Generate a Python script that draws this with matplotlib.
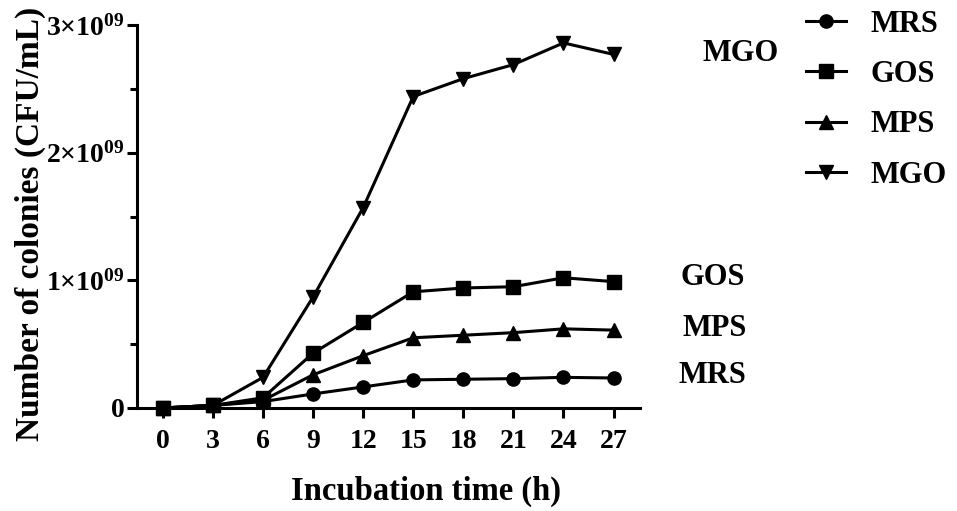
import numpy as np
import matplotlib
matplotlib.use("Agg")
import matplotlib.pyplot as plt
from matplotlib.ticker import FuncFormatter, MultipleLocator

plt.rcParams["font.family"] = "Liberation Serif"
plt.rcParams["font.weight"] = "bold"
plt.rcParams["mathtext.fontset"] = "custom"
plt.rcParams["mathtext.rm"] = "Liberation Serif:bold"
plt.rcParams["mathtext.it"] = "Liberation Serif:bold"
plt.rcParams["mathtext.bf"] = "Liberation Serif:bold"

# incubation time (h)
hours = [0, 3, 6, 9, 12, 15, 18, 21, 24, 27]

# colonies (CFU/mL)
mrs = [0.0, 0.02e9, 0.05e9, 0.11e9, 0.165e9, 0.22e9, 0.225e9, 0.23e9, 0.24e9, 0.235e9]
gos = [0.0, 0.02e9, 0.08e9, 0.43e9, 0.67e9, 0.91e9, 0.94e9, 0.95e9, 1.02e9, 0.99e9]
mps = [0.0, 0.02e9, 0.06e9, 0.26e9, 0.41e9, 0.55e9, 0.57e9, 0.59e9, 0.62e9, 0.61e9]
mgo = [0.0, 0.02e9, 0.24e9, 0.87e9, 1.57e9, 2.44e9, 2.58e9, 2.69e9, 2.86e9, 2.77e9]

names = ["MRS", "GOS", "MPS", "MGO"]
markers = ["o", "s", "^", "v"]

fig = plt.figure(figsize=(9.57, 5.11), dpi=100)
ax = fig.add_axes([0.143, 0.2016, 0.526, 0.7494])

lines = []
for name, vals, m in zip(names, [mrs, gos, mps, mgo], markers):
    ln, = ax.plot(hours, vals, color="black", lw=2.2, marker=m, ms=9.5,
                  label=name, clip_on=False, zorder=3)
    lines.append(ln)

# end-of-line labels
offsets = {"MGO": (64, 1), "GOS": (48, 3), "MPS": (50, 1), "MRS": (47, 2)}
for name, vals in zip(names, [mrs, gos, mps, mgo]):
    ax.annotate(name, xy=(hours[-1], vals[-1]), xytext=offsets[name],
                textcoords="offset points", va="center", ha="left",
                fontsize=22, fontweight="bold")

ax.set_xlim(-1.56, 28.6)
ax.set_ylim(0, 3e9)
ax.set_xticks(hours)
ax.yaxis.set_major_locator(MultipleLocator(1e9))
ax.yaxis.set_minor_locator(MultipleLocator(0.5e9))


def fmt(v, pos):
    if v == 0:
        return "0"
    return r"$%d{\times}10^{09}$" % round(v / 1e9)


ax.yaxis.set_major_formatter(FuncFormatter(fmt))

for side in ["top", "right"]:
    ax.spines[side].set_visible(False)
for side in ["left", "bottom"]:
    ax.spines[side].set_linewidth(2.2)

ax.tick_params(axis="both", which="major", width=2.2, length=7, labelsize=20)
ax.tick_params(axis="y", which="minor", width=2.2, length=5)
ax.tick_params(axis="x", pad=8)
ax.tick_params(axis="y", pad=2)

ax.set_xlabel("Incubation time (h)", fontsize=23.5, fontweight="bold", labelpad=16)
ax.xaxis.label.set_x(0.575)
ax.set_ylabel("Number of colonies (CFU/mL)", fontsize=24, fontweight="bold", labelpad=0)
ax.yaxis.label.set_y(0.48)

fig.legend(handles=lines, loc="upper left", bbox_to_anchor=(0.814, 1.035),
           frameon=False, fontsize=22, handlelength=1.3, labelspacing=0.7,
           handletextpad=0.8)

fig.savefig("out.png", dpi=100)
